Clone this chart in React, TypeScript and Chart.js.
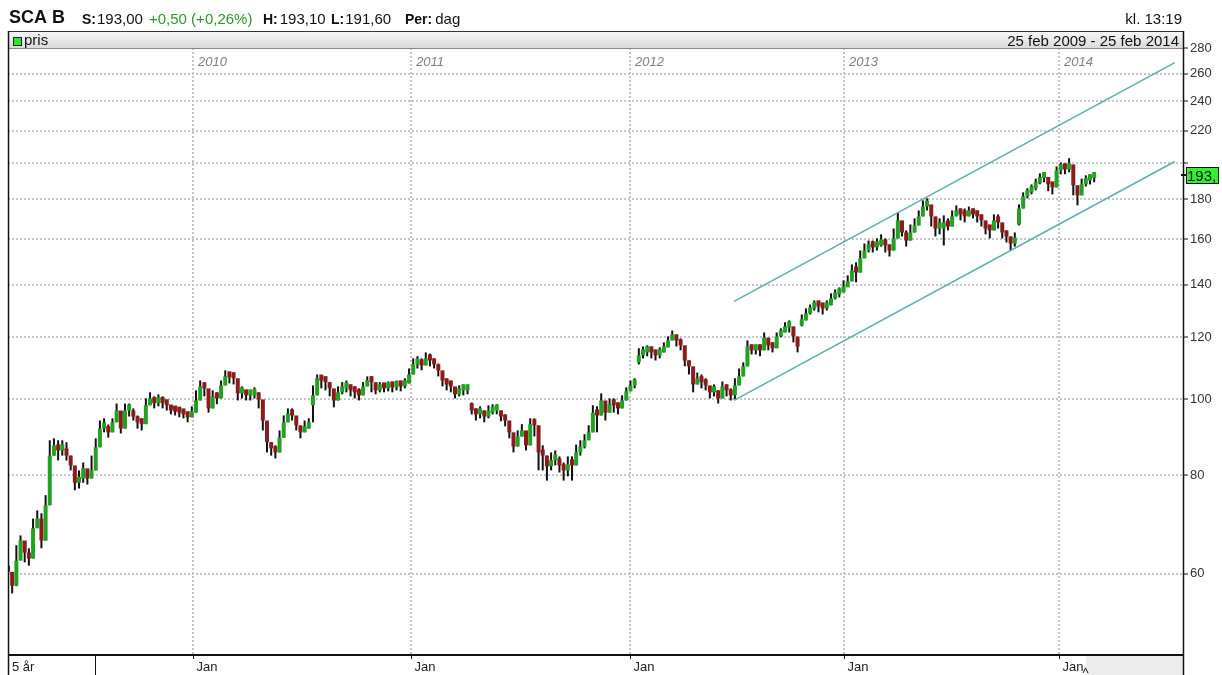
import React, { useEffect, useRef } from 'react';
import { Chart, registerables } from 'chart.js';

Chart.register(...registerables);

// ---- Header / text content ----
const ticker = 'SCA B';
const lastText = '193,00';
const changeText = '+0,50 (+0,26%)';
const highText = '193,10';
const lowText = '191,60';
const periodText = 'dag';
const clockText = 'kl. 13:19';
const rangeText = '25 feb 2009 - 25 feb 2014';
const legendText = 'pris';
const spanButton = '5 år';
const lastPrice = 193.0;

// ---- Weekly closes (week 0 = 25 feb 2009) ----
const firstOpen = 61.0;
const closesA = [
  60.3, 57.9, 62.3, 66.1, 63.8, 62.7, 68.5, 70.5, 66.1, 73.3,
  84.8, 87.4, 86.1, 86.6, 84.8, 82.4, 78.3, 79.3, 81.7, 79.3,
  81.2, 86.9, 91.8, 92.4, 90.8, 93.5, 96.8, 91.8, 96.8, 96.8,
  95.1, 93.5, 93.0, 98.3, 100.3, 98.9, 99.7, 98.9, 98.3, 96.8,
  96.5, 96.2, 95.7, 94.9, 96.2, 99.7, 103.9, 103.3, 97.4, 100.9,
  100.3, 104.2,
];
const closesB = [
  107.0, 106.7, 106.4, 101.8, 102.1, 101.2, 101.2, 102.1, 100.0, 94.0,
  88.2, 86.6, 85.6, 89.4, 93.5, 95.9, 95.4, 92.7, 90.8, 91.8,
  93.5, 101.2, 106.4, 105.7, 105.2, 103.3, 99.7, 102.1, 103.3, 103.9,
  102.7, 102.1, 101.2, 103.9, 105.5, 105.2, 102.7, 103.6, 103.3, 103.9,
  103.6, 104.2, 103.9, 104.8, 107.6, 110.8, 111.5, 110.5, 112.8, 112.1,
  110.8, 108.9,
];
const closesC = [
  105.7, 104.5, 103.9, 101.5, 102.7, 102.7, 103.3, 96.8, 95.7, 96.2,
  95.1, 96.2, 96.8, 96.8, 95.1, 94.0, 90.8, 87.1, 89.7, 91.3,
  87.4, 93.0, 92.7, 85.6, 84.8, 82.2, 83.6, 84.1, 82.4, 81.2,
  82.6, 82.4, 85.6, 87.1, 88.7, 90.8, 96.2, 95.4, 99.7, 96.2,
  98.6, 98.3, 97.4, 99.7, 102.4, 104.2, 104.8, 113.8, 114.8, 115.5,
  114.8, 113.8,
];
const closesD = [
  114.8, 116.5, 118.9, 121.0, 118.9, 117.2, 112.1, 110.2, 104.5, 106.4,
  105.2, 104.2, 102.1, 102.7, 100.3, 103.9, 102.7, 101.2, 104.2, 107.0,
  110.2, 116.8, 115.5, 115.8, 115.5, 119.9, 117.2, 116.2, 120.3, 121.7,
  123.5, 123.9, 120.3, 116.8, 126.1, 128.7, 130.6, 132.1, 131.4, 130.6,
  131.8, 134.5, 136.1, 136.9, 138.9, 141.4, 146.0, 145.1, 151.3, 154.8,
  156.6, 156.2,
];
const closesE = [
  157.1, 159.4, 157.1, 154.8, 160.4, 169.1, 163.2, 159.4, 163.2, 166.6,
  171.1, 176.1, 177.2, 171.1, 165.1, 165.1, 166.6, 166.1, 171.1, 173.1,
  172.1, 171.1, 173.1, 172.1, 171.1, 169.1, 165.1, 164.2, 169.1, 168.1,
  163.2, 161.3, 158.0, 160.4, 175.1, 181.5, 183.6, 185.8, 188.6, 191.5,
  192.1, 188.0, 186.3, 195.8, 197.0, 196.4, 199.3, 187.4, 182.0, 188.0,
  190.2, 191.5, 193.0,
];

// ---- Weekly highs ----
const highsA = [
  61.4, 59.7, 65.2, 67.1, 65.2, 64.6, 70.5, 72.2, 71.6, 75.5,
  88.7, 89.2, 88.7, 88.7, 88.2, 84.8, 81.2, 81.2, 83.1, 81.2,
  84.8, 89.2, 94.0, 94.6, 92.9, 94.6, 98.8, 94.0, 98.8, 98.8,
  97.4, 95.4, 94.6, 100.3, 102.1, 100.9, 101.5, 100.9, 99.7, 98.3,
  98.0, 97.7, 96.8, 96.2, 98.0, 102.7, 105.7, 105.2, 100.3, 102.7,
  102.1, 105.7,
];
const highsB = [
  108.9, 108.2, 108.2, 103.9, 103.9, 102.7, 102.7, 103.6, 102.1, 96.8,
  90.0, 88.2, 87.4, 91.3, 95.4, 97.4, 97.4, 95.1, 92.4, 94.0,
  94.6, 104.2, 107.6, 107.0, 106.4, 105.2, 101.5, 103.9, 105.2, 105.7,
  104.5, 103.9, 103.3, 105.2, 107.0, 107.0, 104.5, 105.2, 104.8, 105.4,
  105.2, 105.7, 105.4, 106.4, 109.5, 112.8, 113.5, 112.8, 114.8, 114.4,
  112.8, 111.1,
];
const highsC = [
  108.2, 106.4, 105.2, 103.3, 104.2, 104.5, 104.5, 99.1, 97.4, 98.0,
  96.8, 98.3, 98.6, 98.6, 96.8, 95.7, 92.4, 89.2, 91.3, 93.0,
  90.0, 94.6, 94.6, 88.7, 87.4, 84.8, 85.6, 86.1, 84.6, 83.1,
  84.6, 84.6, 87.6, 88.7, 90.3, 92.7, 98.3, 98.0, 101.8, 98.3,
  100.3, 100.3, 99.1, 101.2, 103.6, 105.7, 106.4, 116.2, 116.8, 117.2,
  116.8, 115.5,
];
const highsD = [
  116.5, 118.2, 120.3, 122.4, 121.0, 119.6, 114.8, 112.1, 107.0, 108.2,
  107.6, 106.4, 103.9, 104.5, 102.7, 105.4, 104.5, 103.3, 106.4, 109.5,
  111.5, 118.9, 117.5, 117.5, 117.5, 121.7, 119.6, 118.2, 121.7, 123.2,
  125.4, 126.1, 122.4, 118.9, 128.3, 130.6, 132.1, 133.7, 132.9, 132.1,
  133.7, 136.5, 138.1, 138.9, 141.8, 143.9, 148.6, 149.5, 154.8, 158.0,
  159.4, 159.4,
];
const highsE = [
  160.4, 162.3, 160.4, 157.6, 165.1, 173.1, 168.1, 164.2, 167.1, 170.1,
  174.1, 179.3, 180.4, 176.1, 169.1, 170.1, 171.6, 170.1, 174.1, 176.7,
  175.1, 175.1, 176.1, 175.1, 174.1, 172.1, 168.1, 166.6, 172.1, 172.1,
  166.1, 164.2, 161.3, 163.2, 177.2, 183.6, 185.8, 187.9, 191.1, 194.1,
  194.7, 191.1, 189.1, 198.1, 200.4, 199.9, 202.9, 198.7, 187.4, 191.1,
  193.0, 193.6, 194.7,
];

// ---- Weekly lows ----
const lowsA = [
  57.1, 56.6, 57.8, 63.3, 62.0, 61.4, 62.7, 69.1, 64.6, 66.1,
  73.3, 84.8, 83.6, 84.8, 83.6, 81.2, 76.6, 77.0, 78.3, 77.9,
  79.3, 81.2, 86.9, 90.8, 89.4, 90.8, 93.5, 90.5, 91.8, 95.1,
  94.0, 91.8, 91.3, 93.0, 98.3, 97.4, 98.0, 97.4, 96.8, 95.7,
  95.4, 94.9, 94.6, 93.5, 94.9, 96.2, 99.7, 100.9, 96.2, 97.4,
  98.6, 100.3,
];
const lowsB = [
  104.2, 104.8, 104.5, 99.7, 100.3, 99.7, 99.7, 100.3, 97.4, 91.3,
  85.6, 84.8, 84.1, 85.6, 89.4, 93.5, 94.0, 91.3, 89.2, 90.8,
  91.8, 93.5, 101.2, 103.3, 102.7, 100.9, 97.7, 99.7, 101.5, 102.1,
  100.9, 100.3, 99.7, 101.2, 103.9, 102.1, 101.5, 102.1, 102.1, 102.4,
  102.1, 102.7, 102.4, 103.3, 104.8, 107.6, 109.5, 108.9, 110.5, 110.2,
  109.5, 107.0,
];
const lowsC = [
  103.9, 102.7, 102.1, 100.3, 100.9, 101.2, 101.5, 95.7, 94.0, 94.6,
  93.5, 94.6, 95.7, 95.7, 93.8, 92.4, 89.2, 85.6, 87.1, 89.7,
  86.1, 87.4, 89.7, 81.2, 81.2, 78.8, 81.2, 82.4, 80.7, 78.8,
  79.8, 78.8, 82.4, 84.8, 86.6, 88.7, 90.8, 90.8, 95.4, 94.0,
  96.2, 96.2, 95.7, 97.4, 99.7, 102.4, 103.3, 110.8, 112.8, 113.5,
  112.8, 112.1,
];
const lowsD = [
  112.8, 114.8, 116.5, 118.9, 116.8, 115.5, 110.2, 107.6, 102.1, 104.5,
  103.3, 102.7, 100.3, 100.9, 98.8, 100.3, 100.9, 99.7, 100.0, 104.2,
  107.0, 110.2, 114.1, 114.1, 113.5, 115.5, 115.5, 114.8, 116.2, 120.0,
  121.7, 121.7, 118.2, 114.8, 123.9, 126.1, 128.3, 129.8, 129.1, 128.3,
  129.8, 131.8, 134.1, 134.9, 136.9, 139.3, 141.4, 141.0, 145.1, 151.3,
  153.9, 153.9,
];
const lowsE = [
  154.8, 156.6, 153.9, 152.1, 154.8, 160.4, 161.3, 156.6, 159.4, 163.2,
  166.6, 171.1, 174.1, 166.1, 161.3, 162.3, 157.1, 164.2, 166.1, 171.1,
  169.1, 168.1, 171.1, 170.1, 168.1, 166.1, 162.3, 160.4, 164.2, 165.1,
  160.4, 158.5, 154.8, 156.6, 166.6, 175.1, 180.4, 182.5, 184.7, 188.0,
  189.1, 184.2, 182.5, 186.3, 193.6, 193.6, 194.7, 182.0, 176.7, 182.0,
  186.8, 187.9, 189.1,
];

// weeks that opened with a price gap, and their opening prices
const gapWeeks = [73, 111, 151, 190, 242];
const gapOpens = [98.3, 98.9, 111.5, 124.3, 167.0];

// ---- Axes ----
const yTicks = [60, 80, 100, 120, 140, 160, 180, 200, 220, 240, 260, 280];
const yHiddenLabels = [200];
const yearTickWeeks = [44.3, 96.5, 148.9, 200.1, 251.6];
const yearLabels = ['2010', '2011', '2012', '2013', '2014'];
const monthLabel = 'Jan';

// ---- Trend channel ----
const channelWeeks = [173.8, 279.3];
const channelUpper = [133.3, 268.7];
const channelLower = [99.7, 201.0];

const GREEN = '#22a222';
const RED = '#8a1c1c';
const TEAL = '#5aaeae';
const GRID = '#c6c6c6';
const FONT = 'Arial, "Liberation Sans", sans-serif';

export default function App() {
  const ref = useRef<HTMLCanvasElement | null>(null);

  useEffect(() => {
    const canvas = ref.current;
    if (!canvas) return;
    const closes = [...closesA, ...closesB, ...closesC, ...closesD, ...closesE];
    const highs = [...highsA, ...highsB, ...highsC, ...highsD, ...highsE];
    const lows = [...lowsA, ...lowsB, ...lowsC, ...lowsD, ...lowsE];
    const opens = closes.map((c, i) => {
      const g = gapWeeks.indexOf(i);
      if (g >= 0) return gapOpens[g];
      return i === 0 ? firstOpen : closes[i - 1];
    });
    const body = closes.map((c, i) => ({ x: i, y: [opens[i], c] }));
    const wicks = closes.map((c, i) => ({ x: i, y: [lows[i], highs[i]] }));
    const colors = closes.map((c, i) => (c >= opens[i] ? GREEN : RED));

    const overlay = {
      id: 'overlay',
      beforeDraw(chart: any) {
        const ctx = chart.ctx;
        ctx.save();
        ctx.fillStyle = '#ffffff';
        ctx.fillRect(0, 0, chart.width, chart.height);
        ctx.restore();
      },
      afterDraw(chart: any) {
        const ctx = chart.ctx as CanvasRenderingContext2D;
        const area = chart.chartArea;
        const xs = chart.scales.x;
        const ys = chart.scales.y;
        const L = 8;
        const R = Math.round(area.right);
        ctx.save();
        ctx.textBaseline = 'alphabetic';

        // top info line
        ctx.fillStyle = '#111';
        ctx.font = `bold 18px ${FONT}`;
        ctx.textAlign = 'left';
        ctx.fillText(ticker, 9, 23);
        const seg = (txt: string, x: number, font: string, color: string) => {
          ctx.font = font;
          ctx.fillStyle = color;
          ctx.fillText(txt, x, 24);
          return x + ctx.measureText(txt).width;
        };
        const B = `bold 14px ${FONT}`;
        const N = `15px ${FONT}`;
        let x = seg('S:', 82, B, '#111');
        seg(lastText, x + 1, N, '#111');
        seg(changeText, 149, N, '#2a9a2a');
        x = seg('H:', 263, B, '#111');
        seg(highText, x + 2, N, '#111');
        x = seg('L:', 331, B, '#111');
        seg(lowText, x + 1, N, '#111');
        x = seg('Per:', 405, B, '#111');
        seg(periodText, x + 3, N, '#111');
        ctx.textAlign = 'right';
        ctx.font = N;
        ctx.fillStyle = '#111';
        ctx.fillText(clockText, 1182, 24);

        // legend / title bar
        const g = ctx.createLinearGradient(0, 31, 0, 49);
        g.addColorStop(0, '#f8f8f8');
        g.addColorStop(1, '#d8d8d8');
        ctx.fillStyle = g;
        ctx.fillRect(L, 31, R - L, 18);
        ctx.strokeStyle = '#333';
        ctx.lineWidth = 1;
        ctx.beginPath();
        ctx.moveTo(L, 31.5);
        ctx.lineTo(R, 31.5);
        ctx.stroke();
        ctx.strokeStyle = '#888';
        ctx.beginPath();
        ctx.moveTo(L, 48.5);
        ctx.lineTo(R, 48.5);
        ctx.stroke();
        ctx.fillStyle = '#2ee62e';
        ctx.fillRect(13, 37, 9, 9);
        ctx.strokeStyle = '#222';
        ctx.strokeRect(13.5, 37.5, 8, 8);
        ctx.fillStyle = '#111';
        ctx.font = `15px ${FONT}`;
        ctx.textAlign = 'left';
        ctx.fillText(legendText, 24, 45);
        ctx.textAlign = 'right';
        ctx.fillText(rangeText, 1179, 46);

        // year labels at the top of the plot
        ctx.font = `italic 13px ${FONT}`;
        ctx.fillStyle = '#808080';
        ctx.textAlign = 'left';
        yearTickWeeks.forEach((w, i) => {
          const px = xs.getPixelForValue(w);
          ctx.fillText(yearLabels[i], px + 5, 66);
        });

        // bottom row
        const bottom = Math.round(area.bottom);
        ctx.fillStyle = '#ececec';
        ctx.fillRect(1086, bottom + 1, R - 1086, 675 - bottom);
        ctx.strokeStyle = '#111';
        ctx.lineWidth = 2;
        ctx.beginPath();
        ctx.moveTo(L, bottom);
        ctx.lineTo(R, bottom);
        ctx.stroke();
        ctx.lineWidth = 1;
        ctx.beginPath();
        ctx.moveTo(95.5, bottom);
        ctx.lineTo(95.5, 675);
        ctx.stroke();
        ctx.font = `13px ${FONT}`;
        ctx.fillStyle = '#222';
        ctx.fillText(spanButton, 12, 671);
        yearTickWeeks.forEach((w) => {
          const px = Math.round(xs.getPixelForValue(w)) + 0.5;
          ctx.beginPath();
          ctx.moveTo(px, bottom);
          ctx.lineTo(px, bottom + 4);
          ctx.stroke();
          ctx.fillText(monthLabel, px + 3, 671);
        });
        ctx.beginPath();
        ctx.moveTo(1083, 673);
        ctx.lineTo(1085.5, 668);
        ctx.lineTo(1088, 673);
        ctx.stroke();

        // frame lines
        ctx.strokeStyle = '#111';
        ctx.lineWidth = 1.5;
        ctx.beginPath();
        ctx.moveTo(L + 0.5, 31);
        ctx.lineTo(L + 0.5, 675);
        ctx.moveTo(R - 0.5, 31);
        ctx.lineTo(R - 0.5, 675);
        ctx.stroke();

        // last price marker
        const py = Math.round(ys.getPixelForValue(lastPrice));
        ctx.lineWidth = 2;
        ctx.beginPath();
        ctx.moveTo(R - 3, py);
        ctx.lineTo(R + 3, py);
        ctx.stroke();
        ctx.fillStyle = '#33f033';
        ctx.fillRect(R + 2, py - 8, 32, 17);
        ctx.lineWidth = 1;
        ctx.strokeStyle = '#111';
        ctx.strokeRect(R + 2.5, py - 7.5, 32, 16);
        ctx.save();
        ctx.beginPath();
        ctx.rect(R + 3, py - 7, 30, 15);
        ctx.clip();
        ctx.fillStyle = '#111';
        ctx.font = `15px ${FONT}`;
        ctx.textAlign = 'left';
        ctx.fillText(lastText, R + 3, py + 6);
        ctx.restore();

        ctx.restore();
      },
    };

    const chart = new Chart(canvas, {
      type: 'bar',
      data: {
        datasets: [
          {
            type: 'line',
            data: channelWeeks.map((w, i) => ({ x: w, y: channelUpper[i] })),
            borderColor: TEAL,
            borderWidth: 1.5,
            pointRadius: 0,
            order: 0,
          },
          {
            type: 'line',
            data: channelWeeks.map((w, i) => ({ x: w, y: channelLower[i] })),
            borderColor: TEAL,
            borderWidth: 1.5,
            pointRadius: 0,
            order: 0,
          },
          {
            type: 'bar',
            data: body,
            backgroundColor: colors,
            barThickness: 4,
            minBarLength: 6,
            inflateAmount: 0,
            grouped: false,
            order: 1,
          },
          {
            type: 'bar',
            data: wicks,
            backgroundColor: '#111',
            barThickness: 2,
            minBarLength: 3,
            inflateAmount: 0,
            grouped: false,
            order: 2,
          },
        ] as any,
      },
      options: {
        responsive: false,
        animation: false,
        devicePixelRatio: 1,
        events: [],
        layout: { padding: { left: 8, top: 48, right: 0, bottom: 20 } },
        plugins: {
          legend: { display: false },
          tooltip: { enabled: false },
          title: { display: false },
        },
        scales: {
          x: {
            type: 'linear',
            min: 0,
            max: 281.5,
            offset: false,
            bounds: 'data',
            afterBuildTicks: (s: any) => {
              s.ticks = yearTickWeeks.map((v) => ({ value: v }));
            },
            afterFit: (s: any) => {
              s.height = 0;
            },
            ticks: { display: false },
            grid: { offset: false, color: GRID, lineWidth: 2, drawTicks: false },
            border: { display: false, dash: [2, 2] },
          },
          y: {
            type: 'logarithmic',
            position: 'right',
            min: 47.24,
            max: 280.41,
            bounds: 'data',
            beginAtZero: false,
            afterBuildTicks: (s: any) => {
              s.ticks = yTicks.map((v) => ({ value: v }));
            },
            afterFit: (s: any) => {
              s.width = 38;
            },
            ticks: {
              autoSkip: false,
              padding: 2,
              color: '#333',
              font: { family: FONT, size: 13 },
              callback: (v: any) => (yHiddenLabels.includes(Number(v)) ? '' : String(v)),
            },
            grid: {
              color: GRID,
              lineWidth: 2,
              drawTicks: true,
              tickLength: 4,
              tickColor: '#111',
              tickWidth: 1,
              tickBorderDash: [],
            },
            border: { display: false, dash: [2, 2] },
          },
        },
      } as any,
      plugins: [overlay],
    });
    return () => chart.destroy();
  }, []);

  return (
    <div style={{ position: 'absolute', left: 0, top: 0, width: 1222, height: 675 }}>
      <canvas ref={ref} width={1222} height={675} style={{ display: 'block' }} />
    </div>
  );
}
